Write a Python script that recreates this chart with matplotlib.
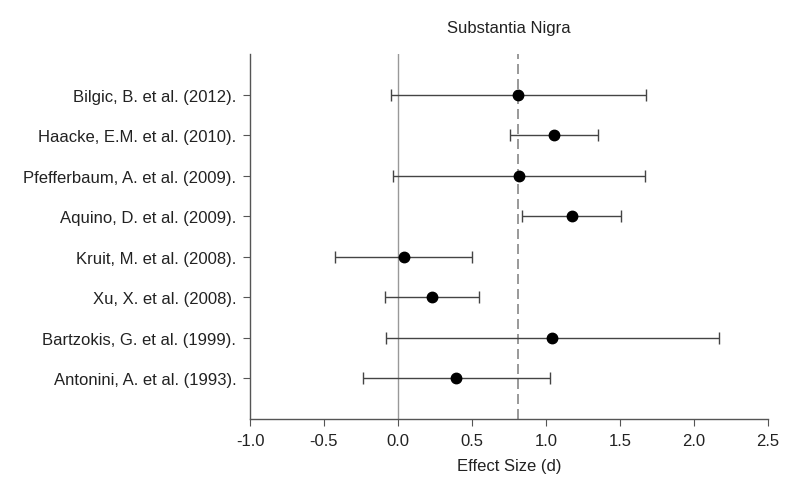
import numpy as np
import matplotlib
matplotlib.use("Agg")
import matplotlib.pyplot as plt

plt.rcParams['font.family'] = ['Liberation Sans', 'DejaVu Sans']

#%% data (top row first)
studies = [
    "Bilgic, B. et al. (2012).",
    "Haacke, E.M. et al. (2010).",
    "Pfefferbaum, A. et al. (2009).",
    "Aquino, D. et al. (2009).",
    "Kruit, M. et al. (2008).",
    "Xu, X. et al. (2008).",
    "Bartzokis, G. et al. (1999).",
    "Antonini, A. et al. (1993).",
]
effect = [0.815, 1.053, 0.817, 1.175, 0.04, 0.23, 1.042, 0.395]
ci_low = [-0.046, 0.759, -0.034, 0.839, -0.424, -0.09, -0.081, -0.233]
ci_high = [1.677, 1.354, 1.667, 1.508, 0.498, 0.549, 2.171, 1.028]
pooled = 0.815

#%% plot
fig = plt.figure(figsize=(7.85, 4.89), dpi=100)
ax = fig.add_axes([0.3185, 0.141, 0.6595, 0.7465])

y = np.arange(len(studies), 0, -1)
eff = np.array(effect)
err = [eff - np.array(ci_low), np.array(ci_high) - eff]

ax.axvline(0, color="#999999", lw=1.0, zorder=1)
ax.axvline(pooled, color="#888888", lw=1.2, ls=(0, (6, 3)), zorder=1)
ax.errorbar(eff, y, xerr=err, fmt="o", color="black", ms=7.5,
            ecolor="#444444", elinewidth=1.0, capsize=4, capthick=1.0, zorder=3)

ax.set_xlim(-1.0, 2.5)
ax.set_ylim(0, len(studies) + 1)
ax.set_xticks(np.arange(-1.0, 2.51, 0.5))
ax.set_xticklabels(["%.1f" % v for v in np.arange(-1.0, 2.51, 0.5)])
ax.set_yticks(y)
ax.set_yticklabels(studies)

for s in ["top", "right"]:
    ax.spines[s].set_visible(False)
for s in ["left", "bottom"]:
    ax.spines[s].set_color("#555555")
    ax.spines[s].set_linewidth(1.0)
ax.tick_params(axis="both", direction="out", length=5, color="#555555",
               labelsize=12, labelcolor="#222222")
ax.tick_params(axis="x", pad=5)
ax.tick_params(axis="y", pad=5)

ax.set_title("Substantia Nigra", fontsize=12, color="#222222", pad=16)
ax.set_xlabel("Effect Size (d)", fontsize=12, color="#222222", labelpad=7)

fig.savefig("out.png", dpi=100)
